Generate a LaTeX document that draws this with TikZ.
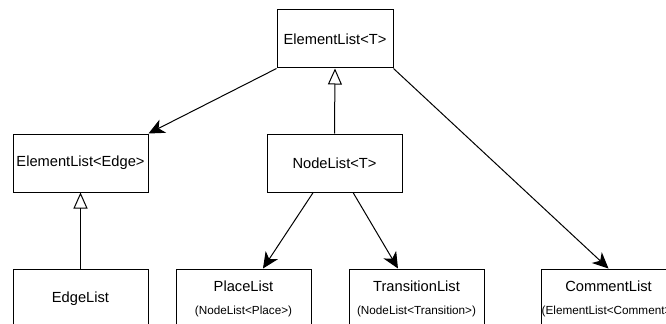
\documentclass[tikz,border=0pt]{standalone}
\usepackage{fontspec}
\setmainfont{Liberation Sans}
\usetikzlibrary{arrows.meta}

\tikzset{
  cls/.style={draw, line width=0.75pt, inner sep=0pt, align=center,
    minimum width=101.25pt, minimum height=43.5pt, font=\fontsize{11}{13}\selectfont},
  leaf/.style={cls, minimum height=45pt},
  assoc/.style={line width=0.75pt, -{Stealth[length=12pt, width=11pt, inset=3.5pt]}},
  inherit/.style={line width=0.75pt, -{Triangle[open, length=12pt, width=10.5pt]}}
}
\newcommand{\subtxt}[1]{{\fontsize{8.8}{10}\selectfont #1}}

\begin{document}
\begin{tikzpicture}[x=0.75pt,y=-0.75pt]
\clip (0,0) rectangle (666,324);
\node[cls, minimum width=87pt] (elemT) at (335,39) {ElementList<T>};
\node[cls] (elemEdge) at (80.5,163) {ElementList<Edge>};
\node[cls] (nodeT) at (334.5,163) {NodeList<T>};
\node[leaf] (edgeList) at (80.5,299) {EdgeList};
\node[leaf] (placeList) at (243.5,299) {PlaceList\\[4pt]\subtxt{(NodeList<Place>)}};
\node[leaf] (transList) at (416.5,299) {TransitionList\\[4pt]\subtxt{(NodeList<Transition>)}};
\node[leaf] (commentList) at (608.5,299) {CommentList\\[4pt]\subtxt{(ElementList<Comment>)}};
\draw[assoc] (elemT.south west) -- (elemEdge.north east);
\draw[inherit] (nodeT.north) -- (elemT.south);
\draw[inherit] (edgeList.north) -- (elemEdge.south);
\draw[assoc] ([xshift=-16pt]nodeT.south) -- ([xshift=14.6pt]placeList.north);
\draw[assoc] ([xshift=13.9pt]nodeT.south) -- ([xshift=-13.9pt]transList.north);
\draw[assoc] (elemT.south east) -- (commentList.north);
\end{tikzpicture}
\end{document}
